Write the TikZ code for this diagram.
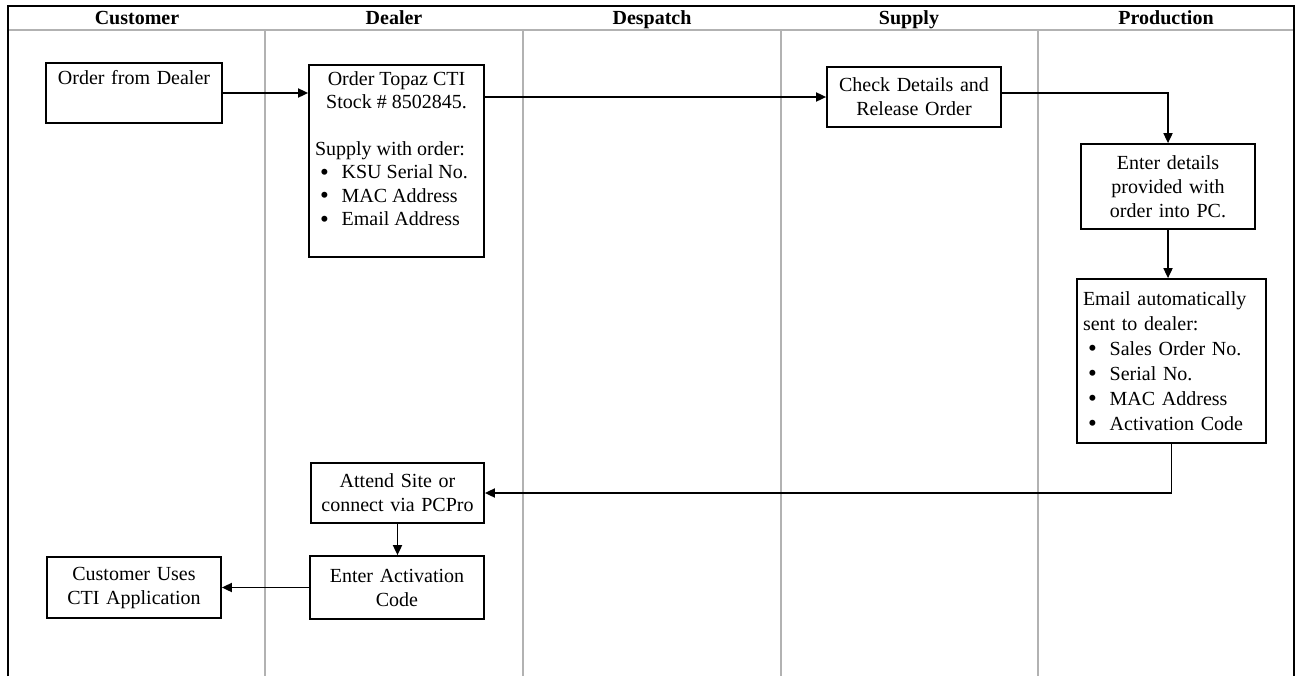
\documentclass[tikz,border=0pt]{standalone}
\usepackage{fontspec}
\setmainfont{Liberation Serif}
\usetikzlibrary{arrows.meta,calc}
\newcommand\bul[1]{\hspace*{3pt}\makebox[13pt][l]{\smash{\raisebox{-0.9pt}{\fontsize{15}{14}\selectfont\textbullet}}}#1}
\tikzset{
  box/.style={draw, line width=1.1pt, inner xsep=3.6pt, inner ysep=0pt, align=center,
    font=\fontsize{12}{14.4}\selectfont},
  listbox/.style={draw, line width=1.1pt, inner xsep=3.6pt, inner ysep=0pt,
    font=\fontsize{12}{14}\selectfont},
  lefttext/.style={align=left},
  arr/.style={line width=0.8pt, -{Triangle[length=6pt,width=5.5pt]}},
  lane/.style={draw=black!30, line width=1.2pt},
  frame/.style={draw=black, line width=1.5pt},
  head/.style={font=\fontsize{12}{14.4}\selectfont\bfseries, inner sep=0pt, anchor=base}
}
\begin{document}
\begin{tikzpicture}[x=0.6pt,y=-0.6pt]
\useasboundingbox (0,0) rectangle (1296,676);
% lanes
\foreach \x in {265,523,781,1038} \draw[lane] (\x,30) -- (\x,676);
\draw[lane] (8,30) -- (1294,30);
\draw[frame] (8,676) -- (8,6) -- (1294,6) -- (1294,676);
% headers
\node[head] (hc) at (137,24) {Customer};
\node[head] (hd) at (394,24) {Dealer};
\node[head] (hs) at (652,24) {Despatch};
\node[head] (hu) at (909,24) {Supply};
\node[head] (hp) at (1166,24) {Production};
% boxes
\node[box, text width=98.4pt, minimum height=36pt] (b1) at (134,93) {Order from Dealer\\ \strut};
\node[listbox] (b2) at (396.5,161)
  {\parbox[c][115.2pt][t]{97.8pt}{\vspace*{4pt}%
   {\centering Order Topaz CTI\\ Stock \# 8502845.\par}\vspace{14pt}%
   \raggedright Supply with order:\\
   \bul{KSU Serial No.}\\
   \bul{MAC Address}\\
   \bul{Email Address}}};
\node[box, text width=97.2pt, minimum height=36pt] (b3) at (914,97) {Check Details and\\ Release Order};
\node[box, text width=97.2pt, minimum height=51pt] (b4) at (1168,186.5) {Enter details\\ provided with\\ order into PC.};
\node[box, text width=106.2pt, minimum height=98.4pt, lefttext, font=\fontsize{12}{15}\selectfont] (b5) at (1171.5,361)
  {Email automatically\\ sent to dealer:\\
   \bul{Sales Order No.}\\
   \bul{Serial No.}\\
   \bul{MAC Address}\\
   \bul{Activation Code}};
\node[box, text width=96.6pt, minimum height=36pt] (b6) at (397.5,493) {Attend Site or\\ connect via PCPro};
\node[box, text width=97.2pt, minimum height=37.8pt] (b7) at (397,587.5) {Enter Activation\\ Code};
\node[box, text width=97.2pt, minimum height=36.6pt] (b8) at (134,587.5) {Customer Uses\\ CTI Application};
% connectors
\draw[arr] (b1.east) -- (b1.east -| b2.west);
\draw[arr] (b3.west -| b2.east) -- (b3.west);
\draw[arr] ([yshift=2.4pt]b3.east) -| (b4.north);
\draw[arr] (b4.south) -- (b4.south |- b5.north);
\draw[arr] (b5.south) |- (b6.east);
\draw[arr] (b6.south) -- (b6.south |- b7.north);
\draw[arr] (b7.west) -- (b8.east);
\end{tikzpicture}
\end{document}
